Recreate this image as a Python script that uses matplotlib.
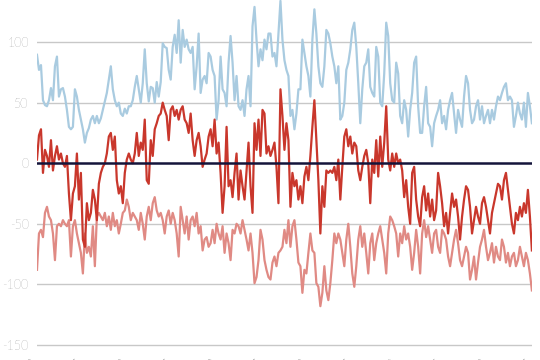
import numpy as np
import matplotlib
matplotlib.use("Agg")
import matplotlib.pyplot as plt

# values, left to right
upper = [89.5, 77, 81, 52, 48, 47, 52, 62, 52, 80, 88, 55, 61, 62, 55, 44, 30, 28, 30, 61,
         55, 44, 36, 28, 17, 25, 29, 36, 39, 33, 39, 33, 37, 44, 51, 58, 69, 80, 61, 52,
         47, 50, 41, 39, 45, 41, 47, 47, 52, 63, 72, 61, 50, 66, 94, 66, 51, 63, 62, 50,
         67, 55, 67, 99, 96, 95, 77, 69, 96, 106, 91, 118, 83, 110, 96, 102, 94, 91, 96, 61,
         80, 107, 58, 69, 72, 66, 91, 88, 77, 72, 36, 52, 88, 61, 58, 47, 83, 105, 83, 52,
         72, 47, 44, 52, 39, 61, 72, 47, 113, 129, 102, 80, 94, 85, 102, 94, 107, 107, 88, 91,
         80, 107, 134, 102, 85, 77, 72,
         39, 44, 28, 41, 61, 61, 102, 91, 80, 72, 55, 102, 127, 107, 80, 66, 63, 80, 110, 107,
         99, 88, 80, 66, 80, 36, 39, 50, 77, 83, 94, 110, 116, 96, 66, 33, 61, 80, 83, 94,
         63, 58, 55, 96, 88, 50, 47, 74, 116, 105, 66, 52, 50, 83, 74, 39, 33, 52, 44, 22,
         44, 58, 83, 88, 47, 25, 25, 47, 63, 33, 30, 14, 33, 39, 44, 52, 33, 39, 28, 44,
         52, 58, 41, 25, 44, 36, 30, 55, 72, 66, 44, 33, 36, 47, 52, 36, 47, 33, 39, 44,
         33, 44, 36, 47, 55, 52, 58, 63, 66, 52, 55, 52, 30, 39, 50, 41, 36, 50, 30, 58,
         47, 33]

middle = [3, 23, 28, -8, 11, 6, -3, 19, -6, 6, 14, 3, 8, 0, -3, 6, -25, -47, -25, -19,
          8, -30, -8, -63, -69, -33, -47, -41, -22, -30, -47, -17, -8, -3, 0, 8, 22, 25, 11, 22,
          -14, -25, -19, -33, -8, 3, 8, 3, 0, 8, 25, 6, 17, 11, 36, -14, -17, 19, 6, 28,
          33, 39, 41, 50, 44, 39, 19, 44, 47, 39, 44, 36, 44, 47, 36, 33, 25, 41, 19, 6,
          19, 25, 14, -3, 3, 8, 22, 28, 14, 36, 8, 17, -8, -41, -19, 30, -19, -14, -28, -8,
          8, -30, -6, -19, -30, -6, 17, -19, -41, 33, 11, 36, 6, 44, 41, 8, 14, 6, 11, 17,
          -3, -33, 61, 39, 11, 33, 19,
          -36, -8, -19, -14, -30, -19, -33, -11, -3, -14, 6, 30, 52, 19, -14, -58, -19, -36, -6, -8,
          -6, -8, -3, -14, 3, -30, -3, 22, 28, 14, 22, 8, 17, 14, -6, -14, -3, 6, 11, 0,
          -33, 3, -8, 19, -11, 22, -3, 17, 47, 3, -6, 8, -3, 8, 0, 3, -6, -28, -14, -36,
          -50, -8, -3, -30, -44, -52, -28, -19, -39, -25, -44, -30, -47, -39, -8, -19, -33, -52, -41, -58,
          -41, -25, -36, -30, -44, -63, -44, -30, -19, -22, -36, -58, -47, -36, -44, -50, -33, -28, -36, -47,
          -58, -41, -33, -25, -17, -19, -30, -14, -8, -22, -36, -50, -58, -41, -47, -36, -44, -33, -41, -22,
          -44, -72]

lower = [-88, -58, -55, -61, -41, -36, -44, -47, -58, -80, -52, -50, -52, -47, -50, -52, -47, -77, -52, -47,
         -58, -66, -74, -91, -58, -74, -69, -77, -52, -85, -44, -41, -44, -47, -41, -52, -44, -55, -41, -52,
         -47, -58, -50, -41, -39, -30, -36, -47, -41, -44, -47, -55, -41, -50, -63, -44, -36, -47, -33, -28,
         -39, -44, -41, -47, -58, -44, -39, -50, -41, -47, -58, -77, -36, -47, -58, -44, -63, -47, -44, -52,
         -41, -58, -52, -72, -63, -61, -69, -66, -55, -66, -50, -58, -63, -52, -74, -58, -66, -80, -55, -58,
         -50, -52, -58, -47, -55, -63, -72, -58, -74, -99, -94, -80, -55, -63, -80, -88, -94, -96, -82, -77,
         -85, -74, -72, -69, -55, -66, -47,
         -69, -52, -47, -63, -82, -85, -107, -88, -91, -74, -58, -72, -74, -99, -102, -118, -107, -85, -105, -113,
         -99, -80, -58, -66, -58, -63, -74, -85, -63, -50, -69, -91, -102, -85, -63, -52, -69, -58, -74, -91,
         -66, -58, -80, -66, -58, -52, -63, -74, -91, -58, -44, -47, -52, -58, -77, -58, -66, -52, -63, -58,
         -69, -88, -74, -55, -69, -91, -58, -47, -61, -52, -63, -74, -58, -55, -69, -74, -55, -58, -63, -77,
         -85, -74, -63, -55, -66, -80, -85, -77, -69, -74, -96, -88, -77, -96, -82, -69, -63, -55, -69, -80,
         -74, -66, -82, -69, -77, -80, -63, -69, -82, -74, -85, -77, -74, -85, -80, -69, -77, -85, -74, -80,
         -91, -105]

tick_labels = ['1960', '1965', '1970', '1975', '1980', '1985',
               '1990', '1995', '2000', '2005', '2010', '2015']
y_ticks = [-150, -100, -50, 0, 50, 100]

x = np.arange(len(upper))

fig = plt.figure(figsize=(5.4, 3.6), dpi=100)
ax = fig.add_axes([0.0685, 0.0317, 0.9165, 0.9683])

for v in y_ticks:
    if v != 0:
        ax.axhline(v, color='#c8c8c8', lw=1, zorder=1)

ax.plot(x, lower, color='#e08a84', lw=1.6, zorder=2)
ax.plot(x, upper, color='#a9cbe0', lw=1.6, zorder=2)
ax.plot(x, middle, color='#c9372c', lw=1.6, zorder=3)
ax.axhline(0, color='#14143a', lw=1.8, zorder=4)

ax.set_xlim(0, len(x) - 1)
ax.set_ylim(-153, 134.7)
ax.set_yticks(y_ticks)
ax.set_yticklabels([str(v) for v in y_ticks], fontsize=9, color='#555555',
                   family='Lato', fontweight='light')
ax.set_xticks(np.linspace(0, len(x) - 1, len(tick_labels)))
ax.set_xticklabels(tick_labels, rotation=45, ha='right', fontsize=7,
                   color='#999999', family='Lato')
ax.tick_params(length=0, pad=6)
ax.tick_params(axis='x', pad=6)
for s in ax.spines.values():
    s.set_visible(False)

fig.savefig('out.png', dpi=100)
